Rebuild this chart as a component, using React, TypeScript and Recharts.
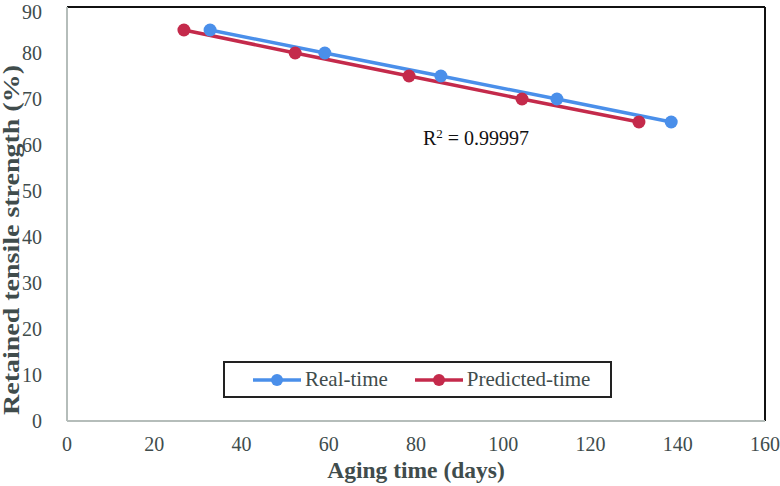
import { LineChart, Line, XAxis, YAxis, ReferenceLine } from "recharts";

const realDays = [32.8, 59.1, 85.7, 112.3, 138.5];
const realStrength = [85, 80, 75, 70, 65];
const predictedDays = [26.8, 52.3, 78.4, 104.3, 131.1];
const predictedStrength = [85, 80, 75, 70, 65];
const xTicks = [0, 20, 40, 60, 80, 100, 120, 140, 160];
const yTicks = [0, 10, 20, 30, 40, 50, 60, 70, 80, 90];

const realData = realDays.map((d, i) => ({ days: d, value: realStrength[i] }));
const predictedData = predictedDays.map((d, i) => ({
  days: d,
  value: predictedStrength[i],
}));

const BLUE = "#4a8fea";
const RED = "#c42a4b";
const TEXT = "#404c4c";
const AXIS = "#b5bdba";
const FONT = "'Liberation Serif', 'Times New Roman', serif";

const series = [
  { name: "Real-time", color: BLUE },
  { name: "Predicted-time", color: RED },
];

// y title is drawn by hand so it can be stretched to the original length
const YTitle = () => {
  const cx = 11;
  const cy = 240;
  return (
    <text
      x={cx}
      y={cy}
      transform={`rotate(-90 ${cx} ${cy})`}
      textAnchor="middle"
      dominantBaseline="central"
      fill={TEXT}
      fontSize={23}
      fontWeight={700}
      textLength={350}
      lengthAdjust="spacingAndGlyphs"
    >
      Retained tensile strength (%)
    </text>
  );
};

// legend box drawn over the plot, like the original
const LegendBox = () => (
  <div
    style={{
      position: "absolute",
      left: 223,
      top: 361,
      width: 389,
      height: 37,
      border: "2px solid #222",
      boxSizing: "border-box",
      display: "flex",
      alignItems: "center",
      fontSize: 21,
      color: TEXT,
      background: "#fff",
    }}
  >
    {series.map((item, i) => (
      <div
        key={item.name}
        style={{
          display: "flex",
          alignItems: "center",
          marginLeft: i === 0 ? 28 : 27,
        }}
      >
        <svg width={48} height={16}>
          <line x1={0} y1={8} x2={48} y2={8} stroke={item.color} strokeWidth={3.5} />
          <circle cx={24} cy={8} r={6} fill={item.color} />
        </svg>
        <span style={{ marginLeft: 4 }}>{item.name}</span>
      </div>
    ))}
  </div>
);

export default function App() {
  return (
    <div
      style={{
        position: "absolute",
        left: 0,
        top: 0,
        width: 780,
        height: 486,
        background: "#fff",
        fontFamily: FONT,
      }}
    >
      <LineChart
        width={780}
        height={486}
        margin={{ top: 7, right: 15, bottom: 0, left: 0 }}
      >
        <XAxis
          type="number"
          dataKey="days"
          domain={[0, 160]}
          ticks={xTicks}
          allowDataOverflow
          height={65}
          tickLine={false}
          axisLine={{ stroke: AXIS, strokeWidth: 2 }}
          tick={{ fill: TEXT, fontSize: 20 }}
          tickMargin={10}
          label={{
            value: "Aging time (days)",
            position: "insideBottom",
            offset: 8,
            fill: TEXT,
            fontSize: 23.5,
            fontWeight: 700,
          }}
        />
        <YAxis
          type="number"
          dataKey="value"
          domain={[0, 90]}
          ticks={yTicks}
          width={67}
          tickLine={false}
          axisLine={{ stroke: AXIS, strokeWidth: 2 }}
          tick={{ fill: TEXT, fontSize: 20 }}
          tickMargin={19}
          label={<YTitle />}
        />
        <ReferenceLine y={90} stroke="#111" strokeWidth={2} />
        <ReferenceLine x={160} stroke="#111" strokeWidth={2} />
        <Line
          data={realData}
          dataKey="value"
          name="Real-time"
          stroke={BLUE}
          strokeWidth={3.5}
          dot={{ r: 6.5, fill: BLUE, stroke: BLUE, strokeWidth: 0 }}
          isAnimationActive={false}
        />
        <Line
          data={predictedData}
          dataKey="value"
          name="Predicted-time"
          stroke={RED}
          strokeWidth={3.5}
          dot={{ r: 6.5, fill: RED, stroke: RED, strokeWidth: 0 }}
          isAnimationActive={false}
        />
      </LineChart>
      <LegendBox />
      <div
        style={{
          position: "absolute",
          left: 423,
          top: 127,
          fontSize: 20,
          color: "#111",
          whiteSpace: "nowrap",
        }}
      >
        R<sup style={{ fontSize: 13, verticalAlign: "top", lineHeight: 1 }}>2</sup> = 0.99997
      </div>
    </div>
  );
}
